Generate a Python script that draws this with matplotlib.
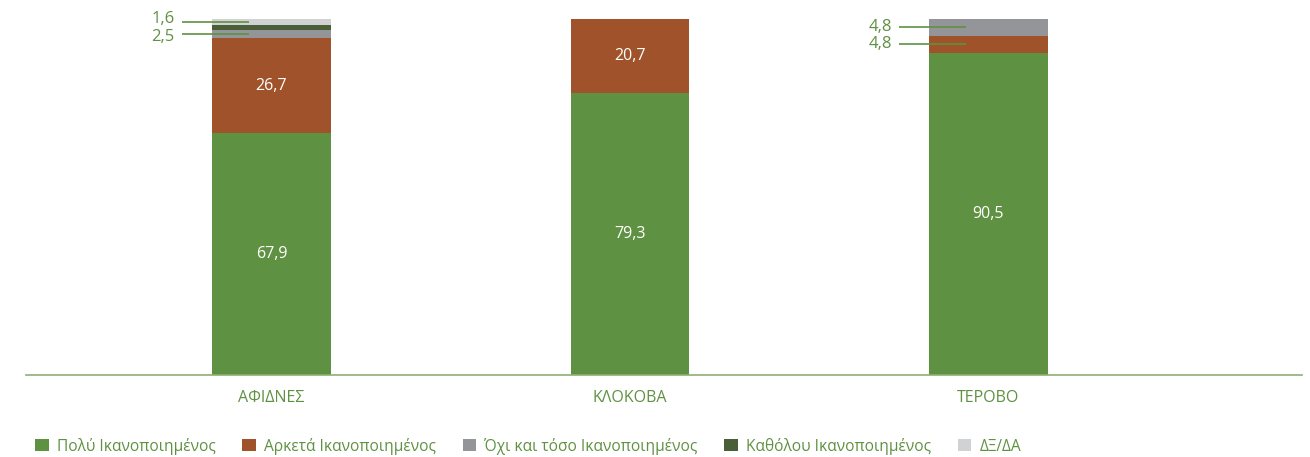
import matplotlib
matplotlib.use('Agg')

import matplotlib.pyplot as plt
import numpy as np
from matplotlib.patches import Patch

# ---------------------------------------------------------------------------
# Data
# ---------------------------------------------------------------------------
places = ["ΑΦΙΔΝΕΣ", "ΚΛΟΚΟΒΑ", "ΤΕΡΟΒΟ"]
series_names = [
    "Πολύ Ικανοποιημένος",
    "Αρκετά Ικανοποιημένος",
    "Όχι και τόσο Ικανοποιημένος",
    "Καθόλου Ικανοποιημένος",
    "ΔΞ/ΔΑ",
]
poly = [67.9, 79.3, 90.5]
arketa = [26.7, 20.7, 4.8]
oxi = [2.5, 0.0, 4.8]
katholou = [1.3, 0.0, 0.0]
dxda = [1.6, 0.0, 0.0]

colors = ["#5f9142", "#a0522a", "#939598", "#4a5e38", "#d1d2d4"]
text_green = "#5f9142"

plt.rcParams['font.family'] = ['Open Sans', 'DejaVu Sans']

fig = plt.figure(figsize=(13.1, 4.57), dpi=100)
ax = fig.add_axes([0.0198, 0.1794, 0.9742, 0.7786])

x = np.arange(len(places))
width = 0.33
stack = [poly, arketa, oxi, katholou, dxda]
bottom = np.zeros(len(places))
for vals, col, name in zip(stack, colors, series_names):
    vals = np.array(vals)
    ax.bar(x, vals, width, bottom=bottom, color=col, label=name, linewidth=0)
    bottom += vals

fmt = lambda v: f"{v:.1f}".replace(".", ",")

# inside labels for the big segments
for i in range(len(places)):
    base = 0.0
    for k, vals in enumerate(stack):
        v = vals[i]
        if v >= 10:
            ax.text(x[i], base + v / 2, fmt(v), ha='center', va='center',
                    color='white', fontsize=11.5)
        base += v

# outside labels with leader lines for small segments
callouts = [
    # (bar index, series index, text offset in points)
    (0, 4, 2),
    (0, 2, -2),
    (2, 2, 0),
    (2, 1, 0),
]
for i, k, dy in callouts:
    base = sum(stack[j][i] for j in range(k))
    v = stack[k][i]
    ymid = base + v / 2
    ax.plot([x[i] - 0.25, x[i] - 0.064], [ymid, ymid], color=text_green,
            linewidth=1.2, solid_capstyle='butt')
    ax.annotate(fmt(v), xy=(x[i] - 0.27, ymid), xytext=(0, dy),
                textcoords='offset points', ha='right', va='center',
                color=text_green, fontsize=12)

ax.set_xlim(-0.685, 2.875)
ax.set_ylim(0, 100)
ax.set_xticks(x)
ax.set_xticklabels(places, color=text_green, fontsize=11.5)
ax.tick_params(axis='x', length=0, pad=11)
ax.set_yticks([])
for side in ['top', 'right', 'left']:
    ax.spines[side].set_visible(False)
ax.spines['bottom'].set_color('#8fae72')
ax.spines['bottom'].set_linewidth(1.2)

handles = [Patch(facecolor=c, edgecolor='none') for c in colors]
leg = fig.legend(handles, series_names, loc='center left',
                 bbox_to_anchor=(0.027, 0.024), ncol=5, frameon=False,
                 fontsize=11.2, handlelength=0.85, handleheight=0.85,
                 handletextpad=0.55, columnspacing=1.7, borderaxespad=0,
                 borderpad=0)
for t in leg.get_texts():
    t.set_color(text_green)

fig.savefig('out.png', dpi=100)
plt.close(fig)
